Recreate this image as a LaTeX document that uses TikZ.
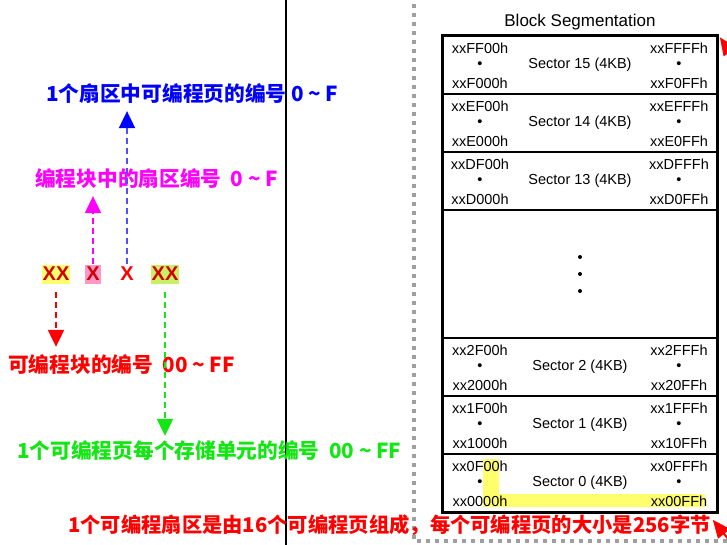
\documentclass[tikz,border=0pt]{standalone}
\usepackage{fontspec}
\setmainfont{Liberation Sans}
\newfontfamily\cjk{Noto Sans CJK SC}
\usetikzlibrary{arrows.meta}

\definecolor{pageblue}{RGB}{0,0,255}
\definecolor{pagedash}{RGB}{80,80,255}
\definecolor{secmag}{RGB}{255,0,255}
\definecolor{blkred}{RGB}{255,0,0}
\definecolor{bytegreen}{RGB}{20,230,20}
\definecolor{xxred}{RGB}{210,0,0}
\definecolor{hlyellow}{RGB}{255,255,110}
\definecolor{hlpink}{RGB}{255,150,200}
\definecolor{hllime}{RGB}{200,240,100}

\tikzset{
    lbl/.style={anchor=west, inner sep=0pt, font=\cjk\bfseries\fontsize{20.7}{22}\selectfont},
    hexbox/.style={inner sep=1pt, minimum height=19pt, text=xxred, font=\bfseries\fontsize{20}{22}\selectfont},
    pick/.style={line width=2pt, dash pattern=on 6pt off 4pt, -{Triangle[length=17pt,width=16pt]}},
    row/.style={draw, line width=1.6pt, minimum width=274pt, minimum height=58pt, font=\fontsize{14.5}{16}\selectfont},
    addr/.style={inner sep=0pt, font=\fontsize{14.5}{16}\selectfont},
}

\begin{document}
\begin{tikzpicture}[x=1pt, y=-1pt]
        \useasboundingbox (0,0) rectangle (727,545);
        \clip (0,0) rectangle (727,545);

        % separators
        \draw[line width=2pt, black] (285.5,0) -- (285.5,545);
        \draw[line width=4pt, gray!75, dash pattern=on 4pt off 5pt] (414,4) -- (414,541) -- (727,541);

        % address fields
        \begin{scope}[every node/.style={hexbox}]
            \node[fill=hlyellow] (xa) at (56,274) {XX};
            \node[fill=hlpink] (xb) at (93,274) {X};
            \node[text=blkred] (xc) at (127,274) {X};
            \node[fill=hllime] (xd) at (165,274) {XX};
        \end{scope}

        \begin{scope}[every node/.style={lbl}]
            \node[text=pageblue] (lblpage) at (46,94) {1个扇区中可编程页的编号 0 \textasciitilde{} F};
            \node[text=secmag] (lblsector) at (35,179) {编程块中的扇区编号\ \ 0 \textasciitilde{} F};
            \node[text=blkred] (lblblock) at (8,365) {可编程块的编号\ \ 00 \textasciitilde{} FF};
            \node[text=bytegreen] (lblbyte) at (17,451) {1个可编程页每个存储单元的编号\ \ 00 \textasciitilde{} FF};
            \node[text=blkred, font=\cjk\bfseries\fontsize{20.3}{22}\selectfont] (lblnote) at (68,525) {1个可编程扇区是由16个可编程页组成，每个可编程页的大小是256字节};
        \end{scope}

        \draw[pick, pagedash, -{Triangle[length=17pt,width=16pt,color=pageblue]}, shorten >=7pt] (xc.north) -- (xc.north |- lblpage.south);
        \draw[pick, secmag, shorten >=7pt] (xb.north) -- (xb.north |- lblsector.south);
        \draw[pick, blkred, shorten <=8pt, shorten >=8pt] (xa.south) -- (xa.south |- lblblock.north);
        \draw[pick, bytegreen, shorten <=8pt, shorten >=5pt] (xd.south) -- (xd.south |- lblbyte.north);

        % block segmentation
        \fill[hlyellow] (483,459) rectangle (499,507) (483,494) rectangle (705,507);
        \node[font=\fontsize{17}{20}\selectfont] (title) at (580,22) {Block Segmentation};
        \foreach \d/\n/\y in {F/15/65, E/14/123, D/13/181, 2/2/367, 1/1/425, 0/0/483} {
            \node[row] (sec\n) at (580,\y) {Sector \n\ (4KB)};
            \node[addr] (lt\n) at ([shift={(-100,-17)}]sec\n.center) {xx\d F00h};
            \node[addr] (ld\n) at ([shift={(-100,0)}]sec\n.center) {•};
            \node[addr] (lb\n) at ([shift={(-100,18)}]sec\n.center) {xx\d 000h};
            \node[addr] (rt\n) at ([shift={(99,-17)}]sec\n.center) {xx\d FFFh};
            \node[addr] (rd\n) at ([shift={(99,0)}]sec\n.center) {•};
            \node[addr] (rb\n) at ([shift={(99,18)}]sec\n.center) {xx\d 0FFh};
        }
        \node[row, minimum height=128pt] (secgap) at (580,274) {};
        \foreach \k in {-17,0,17}
            \fill ([yshift=\k]secgap.center) circle (2);
        \draw[line width=2.2pt] (sec15.north west) rectangle (sec0.south east);

        % pointers from the right
        \coordinate (offtop) at (748,78);
        \coordinate (offbot) at (745,560);
        \draw[line width=2pt, blkred, -{Triangle[length=18pt,width=15pt]}] (offtop) -- ([shift={(2,2)}]sec15.north east);
        \draw[line width=2pt, blkred, -{Triangle[length=18pt,width=15pt]}] (offbot) -- ([shift={(-5,7)}]sec0.south east);
\end{tikzpicture}
\end{document}
